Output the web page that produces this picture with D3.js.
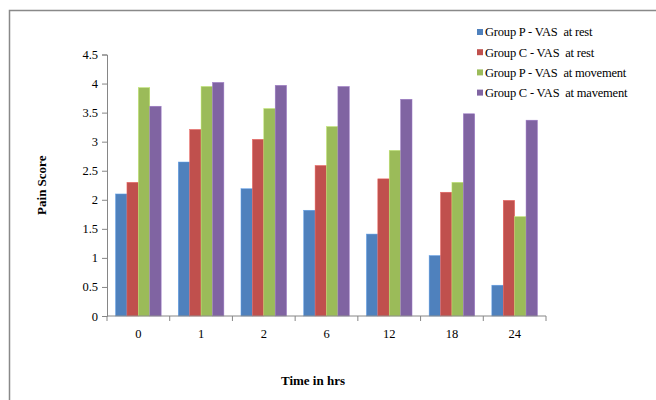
<!DOCTYPE html>
<html>
<head>
<meta charset="utf-8">
<script src="https://cdn.jsdelivr.net/npm/d3@7"></script>
<style>
  body { margin: 0; background: #fff; }
  text { font-family: "Liberation Serif", "DejaVu Serif", serif; fill: #000; }
</style>
</head>
<body>
<div id="chart"></div>
<script>
const hours = ["0", "1", "2", "6", "12", "18", "24"]
const seriesNames = [
  "Group P - VAS  at rest",
  "Group C - VAS  at rest",
  "Group P - VAS  at movement",
  "Group C - VAS  at mavement"
]
const pRest = [2.10, 2.65, 2.19, 1.82, 1.41, 1.04, 0.53]
const cRest = [2.30, 3.21, 3.04, 2.59, 2.36, 2.13, 1.99]
const pMove = [3.93, 3.95, 3.57, 3.26, 2.85, 2.30, 1.71]
const cMove = [3.61, 4.02, 3.97, 3.95, 3.73, 3.48, 3.37]
const yTicks = [0, 0.5, 1, 1.5, 2, 2.5, 3, 3.5, 4, 4.5]
const colors = ["#4F81BD", "#C0504D", "#9BBB59", "#8064A2"]

const series = [pRest, cRest, pMove, cMove]

const W = 656, H = 400
const margin = { left: 107, right: 110, top: 54.5, bottom: 84 }

const svg = d3.select("#chart").append("svg")
  .attr("width", W)
  .attr("height", H)

// chart frame (runs off the right and bottom edge)
svg.append("path")
  .attr("d", `M9.5,${H + 5} V10.5 H${W + 5}`)
  .attr("fill", "none")
  .attr("stroke", "#898989")
  .attr("stroke-width", 1.5)

const x = d3.scaleBand()
  .domain(hours)
  .range([margin.left, W - margin.right])

const barW = x.bandwidth() / 5.5
const x1 = d3.scaleBand()
  .domain(d3.range(series.length))
  .range([barW * 0.75, x.bandwidth() - barW * 0.75])

const y = d3.scaleLinear()
  .domain([0, 4.5])
  .range([H - margin.bottom, margin.top])

const g = svg.append("g")

// bars
g.selectAll("g.hour")
  .data(hours)
  .join("g")
    .attr("class", "hour")
    .attr("transform", d => `translate(${x(d)},0)`)
  .selectAll("rect")
  .data((d, i) => series.map((s, k) => ({ k, v: s[i] })))
  .join("rect")
    .attr("x", d => x1(d.k))
    .attr("width", x1.bandwidth())
    .attr("y", d => y(d.v))
    .attr("height", d => y(0) - y(d.v))
    .attr("fill", d => colors[d.k])
    .attr("stroke", d => d3.color(colors[d.k]).brighter(0.6))
    .attr("stroke-width", 0.5)

// y axis
const yAxis = g.append("g")
  .attr("transform", `translate(${margin.left},0)`)
  .call(d3.axisLeft(y).tickValues(yTicks).tickSize(5).tickPadding(4).tickFormat(d3.format("")))
yAxis.attr("font-family", null)
yAxis.select(".domain").attr("stroke", "#868686")
yAxis.selectAll(".tick line").attr("stroke", "#868686")
yAxis.selectAll("text").attr("font-size", 12.5).attr("fill", "#000")

// x axis, ticks at category boundaries
const xAxis = g.append("g")
  .attr("transform", `translate(0,${y(0)})`)
xAxis.append("line")
  .attr("x1", margin.left).attr("x2", W - margin.right)
  .attr("stroke", "#868686")
xAxis.selectAll("line.tk")
  .data(hours.concat(["end"]))
  .join("line")
    .attr("class", "tk")
    .attr("x1", (d, i) => i < hours.length ? x(d) : x(hours[hours.length - 1]) + x.bandwidth())
    .attr("x2", (d, i) => i < hours.length ? x(d) : x(hours[hours.length - 1]) + x.bandwidth())
    .attr("y1", 0).attr("y2", 5)
    .attr("stroke", "#868686")
xAxis.selectAll("text")
  .data(hours)
  .join("text")
    .attr("x", d => x(d) + x.bandwidth() / 2)
    .attr("y", 22)
    .attr("text-anchor", "middle")
    .attr("font-size", 12.5)
    .text(d => d)

// axis titles
svg.append("text")
  .attr("transform", `translate(46,${(y(0) + y(4.5)) / 2}) rotate(-90)`)
  .attr("text-anchor", "middle")
  .attr("font-size", 13)
  .attr("font-weight", "bold")
  .text("Pain Score")

svg.append("text")
  .attr("x", 313)
  .attr("y", 385)
  .attr("text-anchor", "middle")
  .attr("font-size", 13)
  .attr("font-weight", "bold")
  .text("Time  in hrs")

// legend
const legend = svg.append("g")
  .attr("transform", "translate(477,32)")
const item = legend.selectAll("g")
  .data(seriesNames)
  .join("g")
    .attr("transform", (d, i) => `translate(0,${i * 20.2})`)
item.append("rect")
  .attr("x", 0).attr("y", -3)
  .attr("width", 6).attr("height", 6)
  .attr("fill", (d, i) => colors[i])
item.append("text")
  .attr("x", 8)
  .attr("dy", "0.35em")
  .attr("font-size", 12.5)
  .attr("letter-spacing", -0.2)
  .style("white-space", "pre")
  .text(d => d)
</script>
</body>
</html>
